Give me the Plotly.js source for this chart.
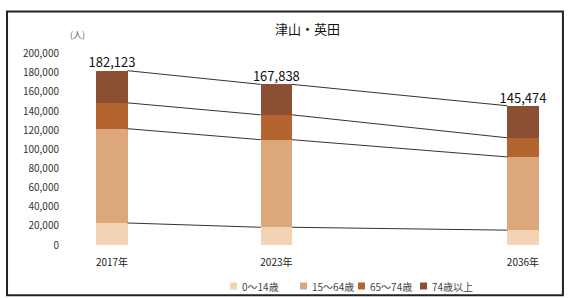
<!DOCTYPE html>
<html><head><meta charset="utf-8">
<script src="https://cdn.plot.ly/plotly-3.0.1.min.js"></script>
<style>html,body{margin:0;padding:0;background:#fff}#chart{width:569px;height:298px}</style>
</head><body><div id="chart"></div>
<script>
const years = ['2017年', '2023年', '2036年'];
const xPos = [0, 0.8, 2];
const groups = ['0～14歳', '15～64歳', '65～74歳', '74歳以上'];
const age0_14 = [23000, 18500, 15500];
const age15_64 = [98500, 91500, 76500];
const age65_74 = [27000, 26000, 20000];
const age75plus = [33623, 31838, 33474];
const totals = [182123, 167838, 145474];
const totalLabels = ['182,123', '167,838', '145,474'];
const colors = ['#f4d2b4', '#dca77a', '#b4642f', '#8b5034'];
const yTicks = [0, 20000, 40000, 60000, 80000, 100000, 120000, 140000, 160000, 180000, 200000];

const series = [age0_14, age15_64, age65_74, age75plus];
const barW = 0.152;
const traces = [];
series.forEach((s, i) => {
  traces.push({type: 'bar', x: xPos, y: s, name: groups[i], width: barW, showlegend: false,
    marker: {color: colors[i], line: {width: 0}}, hoverinfo: 'skip'});
});
function linkTrace(vals) {
  const lx = [], ly = [];
  for (let k = 0; k < xPos.length - 1; k++) {
    lx.push(xPos[k] + barW / 2, xPos[k + 1] - barW / 2, null);
    ly.push(vals[k], vals[k + 1], null);
  }
  return {type: 'scatter', mode: 'lines', x: lx, y: ly, showlegend: false,
    line: {color: '#333', width: 1}, hoverinfo: 'skip'};
}
let cum = [0, 0, 0];
for (let i = 0; i < 3; i++) {
  cum = cum.map((c, k) => c + series[i][k]);
  traces.push(linkTrace(cum.slice()));
}
traces.push(linkTrace(totals));
traces.push({type: 'scatter', mode: 'text', x: xPos, y: totals, text: totalLabels,
  textposition: 'top center', showlegend: false, cliponaxis: false,
  textfont: {family: 'Noto Sans CJK JP, sans-serif', size: 13, color: '#111'}, hoverinfo: 'skip'});

// compact legend (paper coordinates of plot: x 60..555 px, y 44..245 px)
const legendLeftPx = [230, 300, 358, 420];
const pxToPaperX = px => (px - 60) / 495;
const pxToPaperY = py => (245 - py) / 201;
const legendY = 286;
const shapes = [{type: 'rect', xref: 'paper', yref: 'paper', x0: -0.107, x1: 1.016,
  y0: -0.25, y1: 1.162, line: {color: '#222', width: 2}}];
const annotations = [{text: '(人)', xref: 'paper', yref: 'paper', x: 0.016, y: pxToPaperY(34),
  yanchor: 'middle', showarrow: false, font: {size: 9, color: '#666'}}];
groups.forEach((g, i) => {
  const lx = legendLeftPx[i];
  shapes.push({type: 'rect', xref: 'paper', yref: 'paper',
    x0: pxToPaperX(lx), x1: pxToPaperX(lx + 7), y0: pxToPaperY(legendY + 3.5), y1: pxToPaperY(legendY - 3.5),
    fillcolor: colors[i], line: {width: 0}});
  annotations.push({text: g, xref: 'paper', yref: 'paper', x: pxToPaperX(lx + 10), y: pxToPaperY(legendY),
    xanchor: 'left', yanchor: 'middle', showarrow: false, font: {size: 10, color: '#444'}});
});

const layout = {
  width: 569, height: 298,
  margin: {l: 60, r: 14, t: 44, b: 53, autoexpand: false},
  paper_bgcolor: '#fff', plot_bgcolor: '#fff',
  barmode: 'stack', showlegend: false,
  font: {family: 'Noto Sans CJK JP, sans-serif', color: '#333'},
  title: {text: '津山・英田', x: 0.5, xref: 'paper', y: 0.9, yref: 'container', yanchor: 'middle',
    font: {size: 13, color: '#111'}},
  xaxis: {range: [-0.253, 2.156], tickvals: xPos, ticktext: years, showgrid: false,
    zeroline: false, showline: false, ticks: '', ticklabelstandoff: 10,
    tickfont: {size: 10, color: '#222'}, automargin: false},
  yaxis: {range: [0, 210000], tickvals: yTicks, tickformat: ',d', showgrid: false,
    zeroline: false, showline: false, ticks: '', automargin: false,
    tickfont: {size: 10, color: '#333'}},
  annotations: annotations,
  shapes: shapes
};
Plotly.newPlot('chart', traces, layout, {displayModeBar: false, staticPlot: true});
</script></body></html>
